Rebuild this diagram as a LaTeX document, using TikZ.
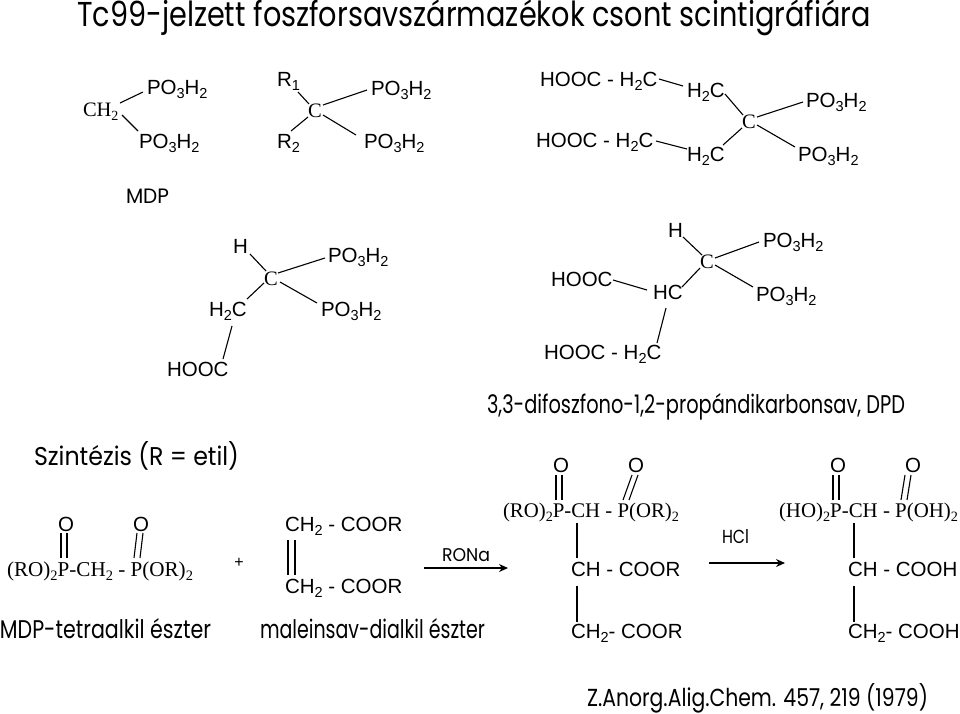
\documentclass[tikz,border=0pt]{standalone}
\usepackage{fontspec}
\usepackage{graphicx}
\setmainfont{Liberation Sans}
\newfontfamily\serifchem{Liberation Serif}
\newfontfamily\hand{Poppins}
\usetikzlibrary{arrows.meta}
\newcommand{\lsub}[1]{\raisebox{-4pt}{\fontsize{14.5}{15}\selectfont #1}}
\newcommand{\tsub}[1]{\raisebox{-4pt}{\fontsize{14}{15}\selectfont #1}}
\newcommand{\POH}{PO\lsub{3}H\lsub{2}}
\newcommand{\HHC}{H\lsub{2}C}
\newcommand{\fitw}[2]{\resizebox{#1pt}{!}{#2}}
\newcommand{\fitwh}[3]{\resizebox{#1pt}{#2pt}{#3}}
\tikzset{
  chem/.style={inner sep=0pt,outer sep=0pt,anchor=base west,font=\fontsize{20.5}{22}\selectfont},
  tchem/.style={inner sep=0pt,outer sep=0pt,anchor=base west,font=\fontsize{20.5}{22}\serifchem},
  note/.style={inner sep=0pt,outer sep=0pt,anchor=base west,font=\hand\fontsize{20}{22}\selectfont},
  bond/.style={draw=black,line width=1.1pt},
  react/.style={draw=black,line width=1.1pt,-{Stealth[length=9pt,width=8pt]}}
}
\begin{document}
\begin{tikzpicture}[x=1pt,y=-1pt]
\useasboundingbox (0,0) rectangle (960,713);
% title
\node[note] (title) at (77,26) {\fitwh{794}{27}{Tc99-jelzett foszforsavszármazékok csont scintigráfiára}};
% molecule 1
\node[tchem] (ach) at (83,116) {CH\tsub{2}};
\node[chem] (apa) at (147,94) {\POH};
\node[chem] (apb) at (139,148) {\POH};
\draw[bond] ([shift={(37,-13)}]ach.base west) -- ([shift={(-4,-2)}]apa.base west);
\draw[bond] ([shift={(39,-1)}]ach.base west) -- ([shift={(-1,-17)}]apb.base west);
\node[note] (mdp) at (126,203) {\fitwh{43}{14.5}{MDP}};
% molecule 2
\node[chem] (br1) at (277,86) {R\lsub{1}};
\node[chem] (br2) at (277,148) {R\lsub{2}};
\node[tchem] (bc) at (308,117) {C};
\node[chem] (bpa) at (371,95) {\POH};
\node[chem] (bpb) at (364,148) {\POH};
\draw[bond] ([shift={(21,6)}]br1.base west) -- ([shift={(1,-13)}]bc.base west);
\draw[bond] ([shift={(14,-17)}]br2.base west) -- (bc.base west);
\draw[bond] ([shift={(15,-12)}]bc.base west) -- ([shift={(-4,-5)}]bpa.base west);
\draw[bond] ([shift={(15,-2)}]bc.base west) -- ([shift={(-8,-13)}]bpb.base west);
% molecule 3
\node[chem] (ch) at (233,253) {H};
\node[tchem] (cc) at (264,285) {C};
\node[chem] (cpa) at (328,262) {\POH};
\node[chem] (cpb) at (321,316) {\POH};
\node[chem] (cm) at (209,316) {\HHC};
\node[chem] (ca) at (167,376) {HOOC};
\draw[bond] ([shift={(17,1)}]ch.base west) -- ([shift={(2,-14)}]cc.base west);
\draw[bond] ([shift={(38,-17)}]cm.base west) -- ([shift={(0,-2)}]cc.base west);
\draw[bond] ([shift={(14,-12)}]cc.base west) -- ([shift={(-3,-4)}]cpa.base west);
\draw[bond] ([shift={(16,-3)}]cc.base west) -- ([shift={(-4,-13)}]cpb.base west);
\draw[bond] ([shift={(23,10)}]cm.base west) -- ([shift={(56,-17)}]ca.base west);
% molecule 4
\node[chem] (dta) at (540,86) {HOOC - \HHC};
\node[chem] (dtb) at (536,147) {HOOC - \HHC};
\node[chem] (dma) at (687,97) {\HHC};
\node[chem] (dmb) at (687,161) {\HHC};
\node[tchem] (dc) at (742,128) {C};
\node[chem] (dpa) at (806,107) {\POH};
\node[chem] (dpb) at (798,161) {\POH};
\draw[bond] ([shift={(119,-7)}]dta.base west) -- ([shift={(-4,-11)}]dma.base west);
\draw[bond] ([shift={(120,-6)}]dtb.base west) -- ([shift={(0,-12)}]dmb.base west);
\draw[bond] ([shift={(38,-3)}]dma.base west) -- ([shift={(1,-13)}]dc.base west);
\draw[bond] ([shift={(36,-16)}]dmb.base west) -- (dc.base west);
\draw[bond] ([shift={(15,-11)}]dc.base west) -- ([shift={(-3,-5)}]dpa.base west);
\draw[bond] ([shift={(15,-3)}]dc.base west) -- ([shift={(-3,-14)}]dpb.base west);
% molecule 5
\node[chem] (eh) at (668,237) {H};
\node[tchem] (ec) at (700,268) {C};
\node[chem] (epa) at (763,247) {\POH};
\node[chem] (epb) at (756,301) {\POH};
\node[chem] (em) at (653,299) {HC};
\node[chem] (ea) at (551,286) {HOOC};
\node[chem] (el) at (544,359) {HOOC - \HHC};
\draw[bond] ([shift={(15,0)}]eh.base west) -- ([shift={(2,-13)}]ec.base west);
\draw[bond] ([shift={(29,-12)}]em.base west) -- (ec.base west);
\draw[bond] ([shift={(15,-10)}]ec.base west) -- ([shift={(-4,-5)}]epa.base west);
\draw[bond] ([shift={(15,-3)}]ec.base west) -- ([shift={(-3,-14)}]epb.base west);
\draw[bond] ([shift={(62,-6)}]ea.base west) -- ([shift={(-6,-9)}]em.base west);
\draw[bond] ([shift={(13,9)}]em.base west) -- ([shift={(113,-16)}]el.base west);
\node[note] (dpd) at (487,413) {\fitwh{418}{20}{3,3-difoszfono-1,2-propándikarbonsav, DPD}};
\node[note] (szi) at (34,465) {\fitwh{205}{24}{Szintézis (R = etil)}};
% reagent 1
\node[chem] (roa) at (58,531) {O};
\node[chem] (rob) at (133,531) {O};
\node[tchem] (ra) at (7,576) {\fitw{186}{(RO)\tsub{2}P-CH\tsub{2} - P(OR)\tsub{2}}};
\draw[bond] ([shift={(3,2)}]roa.base west) -- ([shift={(54,-18)}]ra.base west);
\draw[bond] ([shift={(9,2)}]roa.base west) -- ([shift={(60,-18)}]ra.base west);
\draw[bond] ([shift={(4,2)}]rob.base west) -- ([shift={(127,-18)}]ra.base west);
\draw[bond] ([shift={(10,2)}]rob.base west) -- ([shift={(133,-18)}]ra.base west);
\node[inner sep=0pt,font=\fontsize{16}{18}\selectfont] (plus) at (239,563) {+};
% reagent 2
\node[chem] (ma) at (285,531) {CH\lsub{2} - COOR};
\node[chem] (mb) at (285,593) {CH\lsub{2} - COOR};
\draw[bond] ([shift={(3,9)}]ma.base west) -- ([shift={(3,-18)}]mb.base west);
\draw[bond] ([shift={(10,9)}]ma.base west) -- ([shift={(10,-18)}]mb.base west);
\node[note] (mdpe) at (0,638) {\fitwh{211}{20}{MDP-tetraalkil észter}};
\node[note] (male) at (260,638) {\fitwh{225}{20}{maleinsav-dialkil észter}};
% arrow 1
\node[note] (rona) at (442,561) {\fitwh{48}{13}{RONa}};
\coordinate (aas) at (424,568);
\coordinate (aae) at (508,568);
\draw[react] (aas) -- (aae);
% product 1
\node[chem] (poa) at (553,472) {O};
\node[chem] (pob) at (628,472) {O};
\node[tchem] (pp) at (503,517) {\fitw{176}{(RO)\tsub{2}P-CH - P(OR)\tsub{2}}};
\node[chem] (pq) at (571,576) {CH - COOR};
\node[chem] (pr) at (571,638) {CH\lsub{2}- COOR};
\draw[bond] ([shift={(3,3)}]poa.base west) -- ([shift={(53,-17)}]pp.base west);
\draw[bond] ([shift={(9,3)}]poa.base west) -- ([shift={(59,-17)}]pp.base west);
\draw[bond] ([shift={(4,3)}]pob.base west) -- ([shift={(120,-17)}]pp.base west);
\draw[bond] ([shift={(10,3)}]pob.base west) -- ([shift={(126,-17)}]pp.base west);
\draw[bond] ([shift={(74,6)}]pp.base west) -- ([shift={(6,-18)}]pq.base west);
\draw[bond] ([shift={(6,10)}]pq.base west) -- ([shift={(6,-16)}]pr.base west);
% arrow 2
\node[note] (hcl) at (722,543) {\fitwh{27}{14}{HCl}};
\coordinate (abs) at (709,563);
\coordinate (abe) at (785,563);
\draw[react] (abs) -- (abe);
% product 2
\node[chem] (soa) at (830,472) {O};
\node[chem] (sob) at (905,472) {O};
\node[tchem] (sp) at (779,517) {\fitw{179}{(HO)\tsub{2}P-CH - P(OH)\tsub{2}}};
\node[chem] (sq) at (848,576) {CH - COOH};
\node[chem] (sr) at (848,638) {CH\lsub{2}- COOH};
\draw[bond] ([shift={(3,3)}]soa.base west) -- ([shift={(54,-17)}]sp.base west);
\draw[bond] ([shift={(9,3)}]soa.base west) -- ([shift={(60,-17)}]sp.base west);
\draw[bond] ([shift={(0,3)}]sob.base west) -- ([shift={(122,-17)}]sp.base west);
\draw[bond] ([shift={(6,3)}]sob.base west) -- ([shift={(128,-17)}]sp.base west);
\draw[bond] ([shift={(75,6)}]sp.base west) -- ([shift={(6,-18)}]sq.base west);
\draw[bond] ([shift={(6,10)}]sq.base west) -- ([shift={(6,-16)}]sr.base west);
\node[note] (ref) at (587,706) {\fitwh{341}{23}{Z.Anorg.Alig.Chem. 457, 219 (1979)}};
\end{tikzpicture}
\end{document}
